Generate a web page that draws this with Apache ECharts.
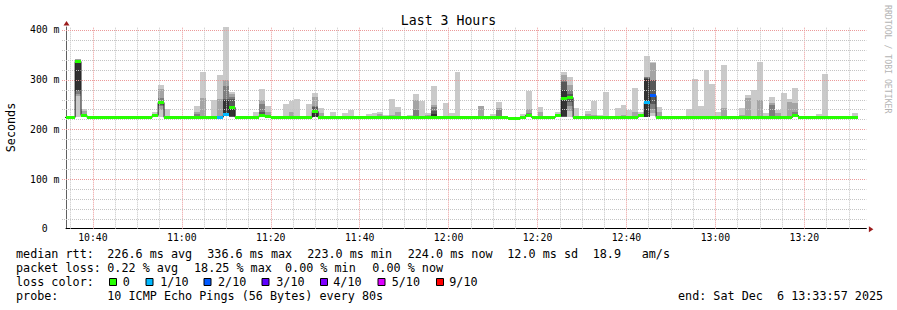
<!DOCTYPE html>
<html><head><meta charset="utf-8">
<script src="https://cdn.jsdelivr.net/npm/echarts@6/dist/echarts.min.js"></script>
<style>html,body{margin:0;padding:0;background:#fff}#c{width:897px;height:310px}</style>
</head><body><div id="c"></div>
<script>
const _ = null;
// time axis (seconds of day)
const firstStepStart = 38000;   // 10:33:20, first 80 s step
const stepSeconds = 80;
const viewStart = 38037;        // 10:33:57
const viewEnd = 48837;          // 13:33:57
const xLabelTimes = [38400, 39600, 40800, 42000, 43200, 44400, 45600, 46800, 48000];
const yLabelValues = [0, 100, 200, 300, 400];

// median rtt per 80 s step (ms)
const median = [
  224, 224, 336.6, 228, 224, 224, 224, 224, 224, 224,
  224, 223, 224, 224, 224, 228, 254, 224, 224, 224,
  224, 224, 224, 224, 224, 224, 224.5, 229, 244, 224,
  224, 224, 224, 227, 225, 223, 224, 224, 224, 224,
  224, 224, 236, 224, 224, 224, 224, 224, 224, 224,
  224, 224, 224, 224, 224, 224, 224, 224, 224, 224,
  224, 224, 224, 224, 224, 224, 224, 224, 224, 224,
  224, 224, 224, 224, 224, 222.5, 222.5, 224, 228, 224,
  224, 224, 224, 227, 262, 264, 224, 224, 224, 224,
  224, 224, 224, 224, 224, 224, 224, 227, 254, 268,
  224, 223, 223, 224, 224, 224, 224, 224, 224, 224,
  224, 224, 224, 223, 224, 224, 224, 224, 224, 224,
  224, 224, 224, 228, 224, 224, 224, 224, 224, 224,
  223, 224, 224, 224
];
// lost pings (out of 10) per step
const lossCount = [
  0,0,0,0,0,0,0,0,0,0, 0,0,0,0,0,0,0,0,0,0,
  0,0,0,0,0,0,1,1,0,0, 0,0,0,0,0,0,0,0,0,0,
  0,0,0,0,0,0,0,0,0,0, 0,0,0,0,0,0,0,0,0,0,
  0,0,0,0,0,0,0,0,0,0, 0,0,0,0,0,0,0,0,0,0,
  0,0,0,0,0,0,0,0,0,0, 0,0,0,0,0,0,0,0,1,2,
  0,0,0,0,0,0,0,0,0,0, 0,0,0,0,0,0,0,0,0,0,
  0,0,0,0,0,0,0,0,0,0, 0,0,0,0
];
// sorted ping times (smoke); null = at the median
const ping1 = [
  _,_,224,_,_,_,_,_,_,_, _,_,_,_,_,_,224,_,_,_, _,_,_,_,_,_,_,_,224,_, _,_,_,_,_,_,_,_,_,_,
  _,_,224,_,_,_,_,_,_,_, _,_,_,_,_,_,_,_,_,_, _,_,_,_,_,_,_,_,_,_, _,_,_,_,_,_,_,_,224,_,
  _,_,_,_,224,224,_,_,_,_, _,_,_,_,_,_,_,_,224,226, _,_,_,_,_,_,_,_,_,_, _,_,_,_,_,_,_,_,_,_,
  _,_,_,_,_,_,_,_,_,_, _,_,_,_
];
const ping2 = [
  _,_,267,_,_,_,_,_,_,_, _,_,_,_,_,_,238,_,_,_, _,_,_,_,_,_,_,_,224,_, _,_,_,_,_,_,_,_,_,_,
  _,_,224,_,_,_,_,_,_,_, _,_,_,_,_,_,_,_,_,_, _,_,_,_,_,_,_,_,_,_, _,_,_,_,_,_,_,_,224,_,
  _,_,_,_,224,236,_,_,_,_, _,_,_,_,_,_,_,_,224,232, _,_,_,_,_,_,_,_,_,_, _,_,_,_,_,_,_,_,_,_,
  _,_,_,_,_,_,_,_,_,_, _,_,_,_
];
const ping3 = [
  _,_,272,_,_,_,_,_,_,_, _,_,_,_,_,_,246,_,_,_, _,_,_,_,_,_,_,_,224,_, _,_,_,_,_,_,_,_,_,_,
  _,_,224,_,_,_,_,_,_,_, _,_,_,_,_,_,_,_,_,_, _,_,_,_,_,_,_,_,_,_, _,_,_,_,_,_,_,_,224,_,
  _,_,_,_,224,246,_,_,_,_, _,_,_,_,_,_,_,_,224,240, _,_,_,_,_,_,_,_,_,_, _,_,_,_,_,_,_,_,_,_,
  _,_,_,_,_,_,_,_,_,_, _,_,_,_
];
const ping4 = [
  _,_,278,_,_,_,_,_,_,_, _,_,_,_,_,_,250,_,_,_, _,_,_,_,_,_,_,_,225,_, _,_,_,_,_,_,_,_,_,_,
  _,_,224,_,_,_,_,_,_,_, _,_,_,_,_,_,_,_,_,_, _,_,_,_,_,_,_,_,_,_, _,_,_,_,_,_,_,_,224,_,
  _,_,_,_,224,256,_,_,_,_, _,_,_,_,_,_,_,_,224,252, _,_,_,_,_,_,_,_,_,_, _,_,_,_,_,_,_,_,_,_,
  _,_,_,_,_,_,_,_,_,_, _,_,_,_
];
const ping5 = [
  _,_,280,_,_,_,_,_,_,_, _,_,_,_,_,_,253,_,_,_, _,_,_,_,_,_,_,_,226,_, _,_,_,_,_,_,_,_,_,_,
  _,_,225,_,_,_,_,_,_,_, _,_,_,_,_,_,_,_,_,_, _,_,_,_,_,_,_,_,_,_, _,_,_,_,_,_,_,_,224,_,
  _,_,_,_,226,262,_,_,_,_, _,_,_,_,_,_,_,_,225,266, _,_,_,_,_,_,_,_,_,_, _,_,_,_,_,_,_,_,_,_,
  _,_,_,_,_,_,_,_,_,_, _,_,_,_
];
const ping6 = [
  _,_,337,_,_,_,_,_,_,_, _,_,_,_,_,_,255,_,_,_, _,_,_,_,_,_,_,259,247,_, _,_,_,_,_,_,_,_,_,_,
  _,_,238,_,_,_,_,_,_,_, _,_,_,_,_,_,_,_,_,_, _,_,230,_,_,_,_,_,_,_, _,_,_,_,_,_,_,_,229,_,
  _,_,_,_,279,266,_,_,_,_, _,_,_,_,_,_,_,_,301,270, _,_,_,_,_,_,_,_,_,_, _,_,_,_,_,_,_,_,_,_,
  _,_,_,_,_,_,_,_,_,_, _,_,_,_
];
const ping7 = [
  _,_,338.5,_,_,_,_,_,_,_, _,_,_,_,_,_,258,_,_,_, _,_,_,_,_,_,_,262,261,_, _,_,_,234,_,_,_,_,_,_,
  _,_,245,_,_,_,_,_,_,_, _,_,_,_,_,_,_,_,_,_, _,_,237,_,_,_,_,_,_,_, _,_,_,_,_,_,_,_,231,_,
  _,_,_,_,296,272,_,_,_,_, _,_,_,_,_,_,_,_,303,299, _,_,_,_,_,_,_,_,_,_, _,_,_,_,_,_,_,_,_,_,
  _,_,_,_,_,_,_,_,_,_, _,_,_,_
];
const ping8 = [
  _,_,340,_,_,_,_,_,_,_, _,_,_,_,_,_,263,_,_,_, _,_,231,_,_,_,_,288,266,_, _,_,_,251,_,_,_,_,_,_,
  _,_,247,_,_,_,_,_,_,_, _,_,_,_,_,_,_,_,_,239, _,_,244,_,_,_,_,_,_,_, _,_,_,239,_,_,_,_,232,_,
  _,_,_,_,300,280,_,_,_,_, _,_,_,_,_,_,_,_,305,300, _,_,_,_,_,_,_,_,_,_, _,_,_,_,_,_,_,_,_,249,
  _,_,_,234,_,_,_,_,_,_, _,_,_,_
];
const ping9 = [
  _,_,341,236,_,_,_,_,_,_, _,_,_,_,_,_,282,_,_,_, _,_,234,264,_,_,261,299,271,_, _,_,_,259,234,_,_,_,234,_,
  _,_,265,233,_,_,_,_,_,_, _,_,_,231,_,229,235,_,_,259, _,229,249,_,_,_,_,_,_,_, 246,_,_,243,_,_,_,_,241,_,
  234,_,_,_,309,290,_,_,231,229, _,_,_,_,229,_,235,_,306,334, 234,_,_,_,_,_,_,_,_,_, _,243,_,_,229,264,_,259,_,253,
  233,_,255,253,_,_,_,_,_,_, _,_,_,_
];
const ping10 = [
  _,_,342,241,_,_,_,_,_,_, _,_,_,_,_,234,289,241,_,_, _,_,247,316,_,259,309,405,276,_, _,_,234,281,247,_,_,251,257,261,
  _,251,273,243,_,235,_,233,239,_, _,231,233,235,229,261,245,_,229,271, 257,233,287,_,253,233,315,_,_,_, 247,_,230,255,_,_,_,230,277,_,
  245,_,_,234,316,305,243,_,237,257, 229,275,_,243,249,239,283,234,348,336, 245,_,_,_,_,240,301,247,320,291, 234,330,_,_,243,269,279,336,233,265,
  239,273,261,283,_,_,_,231,311,_, _,_,_,233
];

const smokeShades = ['#cacaca', '#a4a4a4', '#7e7e7e', '#585858', '#323232'];
const lossColorByCount = {0: '#26ff00', 1: '#00b8ff', 2: '#0059ff', 3: '#5e00ff', 4: '#7e00ff', 5: '#dd00ff', 9: '#ff0000'};
const lossLegend = [['0', 0], ['1/10', 1], ['2/10', 2], ['3/10', 3], ['4/10', 4], ['5/10', 5], ['9/10', 9]];

const rttStats = ['226.6 ms avg', '336.6 ms max', '223.0 ms min', '224.0 ms now', '12.0 ms sd', '18.9', 'am/s'];
const lossStats = ['0.22 % avg', '18.25 % max', '0.00 % min', '0.00 % now'];

const pings = [ping1, ping2, ping3, ping4, ping5, ping6, ping7, ping8, ping9, ping10];
const steps = median.map((m, k) => {
  const t0 = firstStepStart + k * stepSeconds;
  const row = [t0, t0 + stepSeconds, m];
  pings.forEach(p => row.push(p[k] == null ? m : p[k]));
  row.push(lossCount[k]);
  return row;
});
const medianLine = steps.map(s => [s[0], s[2]]);
medianLine.push([steps[steps.length - 1][1], steps[steps.length - 1][2]]);

// grid line positions from the axis intervals (5 min / 20 ms minor, 20 min / 100 ms major)
const vGridTimes = [];
for (let t = 38100; t <= 48600; t += 300) vGridTimes.push(t);
const hGrid = [];
for (let v = 20; v <= 400; v += 20) hGrid.push([viewStart, v]);
const MAJOR = '#eb9a9a', MINOR = '#c4c4c4';

const MONO = '"DejaVu Sans Mono", monospace';
const pad = n => (n < 10 ? '0' : '') + n;

const chart = echarts.init(document.getElementById('c'), null, {renderer: 'svg', width: 897, height: 310});

function clipRect(x0, y0, x1, y1, cs) {
  const r = {x: Math.round(x0), y: Math.round(y0), width: Math.round(x1) - Math.round(x0), height: Math.round(y1) - Math.round(y0)};
  return echarts.graphic.clipRectByRect(r, cs);
}

const textEl = (text, x, y, size, extra) => ({
  type: 'text', x, y, silent: true,
  style: Object.assign({text, font: size + 'px ' + MONO, fill: '#000', align: 'left', verticalAlign: 'middle'}, extra || {})
});

const graphics = [];
graphics.push(textEl('median rtt:', 16, 254, 11.75));
[107.3, 207.3, 307.3, 407.7, 507.3, 592.7, 641.7].forEach((x, i) => graphics.push(textEl(rttStats[i], x, 254, 11.75)));
graphics.push(textEl('packet loss:', 16, 268.3, 11.75));
[107.3, 194, 285, 372.3].forEach((x, i) => graphics.push(textEl(lossStats[i], x, 268.3, 11.75)));
graphics.push(textEl('loss color:', 16, 281.7, 11.75));
const boxX = [109, 145.5, 203.5, 261.5, 320, 377.5, 436];
const boxLabelX = [122.7, 160.3, 218, 276.3, 333.3, 391.7, 449.3];
lossLegend.forEach((l, i) => {
  graphics.push({type: 'rect', silent: true, shape: {x: boxX[i] + 0.5, y: 278.5, width: 7, height: 7},
    style: {fill: lossColorByCount[l[1]], stroke: '#000', lineWidth: 1}});
  graphics.push(textEl(l[0], boxLabelX[i], 281.7, 11.75));
});
graphics.push(textEl('probe:', 16, 296, 11.75));
graphics.push(textEl('10 ICMP Echo Pings (56 Bytes) every 80s', 107.3, 296, 11.75));
graphics.push(textEl('end: Sat Dec', 678, 296, 11.75));
graphics.push(textEl('6 13:33:57 2025', 777, 296, 11.75));
graphics.push(Object.assign(textEl('Seconds', 10.9, 127.5, 11.75, {align: 'center'}), {rotation: Math.PI / 2}));
graphics.push(Object.assign(textEl('RRDTOOL / TOBI OETIKER', 887.5, 59.2, 8.2, {align: 'center', fill: '#b4b4b4'}), {rotation: -Math.PI / 2}));

const dotted = (major) => ({stroke: major ? MAJOR : MINOR, lineWidth: 1, lineDash: [1, 1]});

chart.setOption({
  animation: false,
  backgroundColor: '#ffffff',
  title: {text: 'Last 3 Hours', left: 'center', top: 8,
    textStyle: {fontFamily: MONO, fontSize: 13.2, fontWeight: 'normal', color: '#000', lineHeight: 14}},
  grid: {left: 66, right: 30.65, top: 27, bottom: 81.3, containLabel: false, outerBoundsMode: 'none'},
  xAxis: {
    type: 'value', min: viewStart, max: viewEnd,
    axisLine: {show: true, onZero: true, lineStyle: {color: '#000', width: 1}},
    axisTick: {show: false},
    splitLine: {show: false},
    axisLabel: {customValues: xLabelTimes, fontFamily: MONO, fontSize: 9.8, color: '#000', margin: 4, lineHeight: 10,
      formatter: v => (v % 1200 === 0 ? pad(Math.floor(v / 3600)) + ':' + pad(Math.floor((v % 3600) / 60)) : '')}
  },
  yAxis: {
    type: 'value', min: 0, max: 406, interval: 100,
    axisLine: {show: true, lineStyle: {color: '#606060', width: 1}},
    axisTick: {show: false},
    splitLine: {show: false},
    axisLabel: {customValues: yLabelValues, fontFamily: MONO, fontSize: 9.8, color: '#000', margin: 6.5,
      formatter: v => (v === 0 ? '0\u00a0\u00a0' : (v % 100 === 0 && v <= 400 ? v + ' m' : ''))}
  },
  graphic: graphics,
  series: [
    {
      type: 'custom', name: 'smoke', z: 2, silent: true, data: steps,
      encode: {x: [0, 1], y: 2},
      renderItem: (params, api) => {
        const cs = params.coordSys;
        const s = api.value(0), e = api.value(1);
        const children = [];
        for (let b = 0; b < 5; b++) {
          const lo = api.value(3 + b), hi = api.value(12 - b);
          if (!(hi > lo)) continue;
          const a = api.coord([s, hi]), c = api.coord([e, lo]);
          const r = clipRect(a[0], a[1], c[0], c[1], cs);
          if (r && r.width > 0 && r.height > 0) children.push({type: 'rect', shape: r, style: {fill: smokeShades[b]}});
        }
        return {type: 'group', children};
      }
    },
    {
      type: 'line', name: 'vgrid', z: 3, silent: true, data: [], symbol: 'none',
      markLine: {
        silent: true, animation: false, z: 3, symbol: ['none', 'none'], label: {show: false},
        emphasis: {disabled: true},
        data: vGridTimes.map(t => ({xAxis: t, lineStyle: {color: t % 1200 === 0 ? MAJOR : MINOR, width: 1, type: [1, 1]}}))
      }
    },
    {
      type: 'custom', name: 'hgrid', z: 3, silent: true, data: hGrid,
      encode: {x: 0, y: 1},
      renderItem: (params, api) => {
        const cs = params.coordSys;
        const v = api.value(1);
        const y = Math.round(api.coord([viewStart, v])[1]) + 0.5;
        return {type: 'line', shape: {x1: cs.x - 4, y1: y, x2: cs.x + cs.width, y2: y}, style: dotted(v % 100 === 0)};
      }
    },
    {
      type: 'line', name: 'median', z: 4, silent: true, data: medianLine, step: 'end',
      symbol: 'none', clip: true, lineStyle: {color: '#202020', width: 1}
    },
    {
      type: 'custom', name: 'loss', z: 5, silent: true, data: steps,
      encode: {x: [0, 1], y: 2},
      renderItem: (params, api) => {
        const cs = params.coordSys;
        const s = api.value(0), e = api.value(1), m = api.value(2), loss = api.value(13);
        const a = api.coord([s, m]), c = api.coord([e, m]);
        const r = clipRect(a[0], a[1] - 1.5, c[0], a[1] + 1.5, cs);
        if (!r) return null;
        return {type: 'rect', shape: r, style: {fill: lossColorByCount[loss] || '#26ff00'}};
      }
    }
  ]
});

// axis arrows
const topPt = chart.convertToPixel({gridIndex: 0}, [viewStart, 406]);
const rightPt = chart.convertToPixel({gridIndex: 0}, [viewEnd, 0]);
graphics.push({type: 'polygon', silent: true, shape: {points: [[topPt[0] + 0.5, topPt[1] - 6], [topPt[0] - 2.5, topPt[1] - 1.5], [topPt[0] + 3.5, topPt[1] - 1.5]]}, style: {fill: '#9b1c1c'}});
graphics.push({type: 'polygon', silent: true, shape: {points: [[rightPt[0] + 7, rightPt[1] + 0.5], [rightPt[0] + 2.5, rightPt[1] - 2.5], [rightPt[0] + 2.5, rightPt[1] + 3.5]]}, style: {fill: '#9b1c1c'}});
chart.setOption({graphic: graphics});
</script>
</body></html>
